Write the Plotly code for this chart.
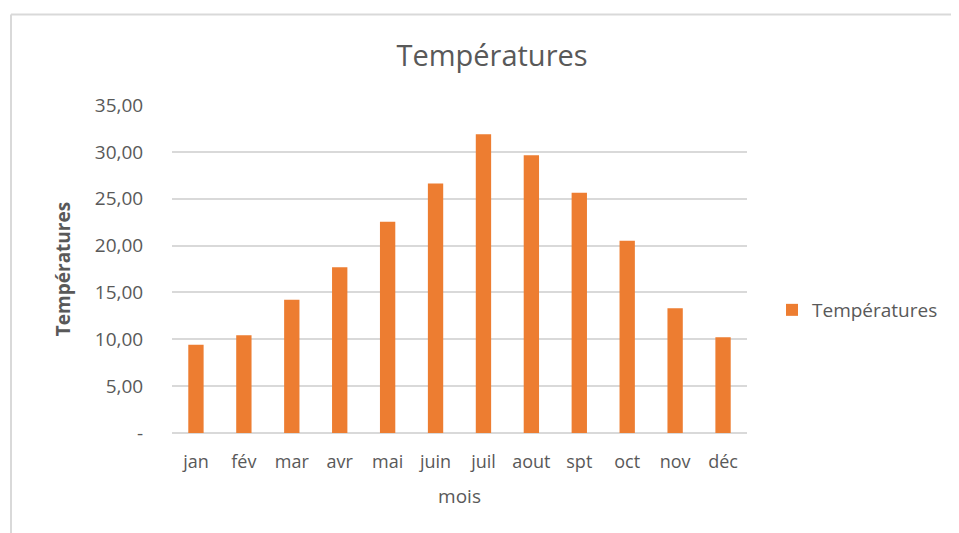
import plotly.graph_objects as go

months = ["jan", "fév", "mar", "avr", "mai", "juin", "juil", "aout", "spt", "oct", "nov", "déc"]
temperatures = [9.43, 10.43, 14.21, 17.69, 22.54, 26.63, 31.87, 29.63, 25.64, 20.51, 13.31, 10.21]
y_tick_vals = [0, 5, 10, 15, 20, 25, 30, 35]
y_tick_text = ["-", "5,00", "10,00", "15,00", "20,00", "25,00", "30,00", "35,00"]

FONT = "'Open Sans', Lato, sans-serif"
GRAY = "#595959"

# page body has an 8px margin, so the figure is laid out 8px up/left
OFF = 8
W, H = 959 - OFF, 533 - OFF
L, R, T, B = 164, W - 739, 97, H - 425
pw, ph = W - L - R, H - T - B


def px_x(x):
    return (x - OFF - L) / pw


def px_y(y):
    return (H - B - (y - OFF)) / ph


fig = go.Figure()
fig.add_trace(go.Bar(
    x=months, y=temperatures, name="Températures",
    marker=dict(color="#ED7D31", line=dict(width=0)),
    showlegend=True,
))

fig.update_layout(
    width=W, height=H,
    margin=dict(l=L, r=R, t=T, b=B),
    paper_bgcolor="white", plot_bgcolor="white",
    bargap=0.68,
    font=dict(family=FONT, color=GRAY, size=18),
    title=dict(text="Températures", x=(492 - OFF) / W, xanchor="center",
               y=1 - (56 - OFF) / H, yanchor="middle", yref="container",
               font=dict(family=FONT, size=29, color=GRAY)),
    xaxis=dict(
        tickfont=dict(size=18, color=GRAY), showgrid=False,
        ticks="outside", ticklen=12, tickcolor="rgba(0,0,0,0)",
        showline=False, zeroline=False,
        title=dict(text="mois", font=dict(size=19, color=GRAY), standoff=18),
    ),
    yaxis=dict(
        range=[0, 35], tickvals=y_tick_vals, ticktext=y_tick_text,
        tickfont=dict(size=19, color=GRAY),
        showgrid=True, gridcolor="#d9d9d9", gridwidth=1.5,
        zeroline=True, zerolinecolor="#d9d9d9", zerolinewidth=1.5,
        ticks="outside", ticklen=24, tickcolor="rgba(0,0,0,0)",
        title=dict(text="<b>Températures</b>", font=dict(size=19, color=GRAY), standoff=19),
    ),
    legend=dict(x=px_x(772), y=px_y(310), xanchor="left", yanchor="middle",
                font=dict(size=19, color=GRAY), itemwidth=30,
                bgcolor="rgba(0,0,0,0)"),
)

# chart border (top and left, as in the reference screenshot)
fig.add_shape(type="line", xref="paper", yref="paper",
              x0=px_x(11), x1=px_x(970), y0=px_y(14.5), y1=px_y(14.5),
              line=dict(color="#d9d9d9", width=2))
fig.add_shape(type="line", xref="paper", yref="paper",
              x0=px_x(11), x1=px_x(11), y0=px_y(14.5), y1=px_y(545),
              line=dict(color="#d9d9d9", width=2))

fig.write_html("out.html")
